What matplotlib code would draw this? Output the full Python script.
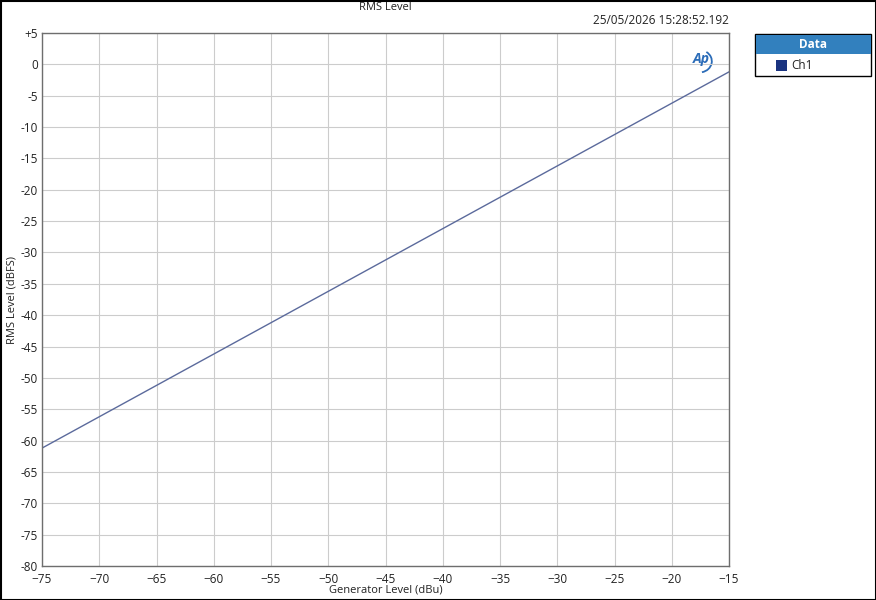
import matplotlib.pyplot as plt
from matplotlib.patches import Rectangle, Arc
import numpy as np

plt.rcParams['font.family'] = ['Open Sans', 'DejaVu Sans']

# Data
gen_level = [-75, -70, -65, -60, -55, -50, -45, -40, -35, -30, -25, -20, -15]
rms_level = [-61.2, -56.2, -51.2, -46.2, -41.2, -36.2, -31.2, -26.2, -21.2,
             -16.2, -11.2, -6.2, -1.2]
x_ticks = [-75, -70, -65, -60, -55, -50, -45, -40, -35, -30, -25, -20, -15]
y_ticks = [5, 0, -5, -10, -15, -20, -25, -30, -35, -40, -45, -50, -55, -60,
           -65, -70, -75, -80]
y_labels = ["+5" if v > 0 else str(v) for v in y_ticks]

fig = plt.figure(figsize=(8.76, 6.0), dpi=100)
ax = fig.add_axes([42 / 876, 34 / 600, 687 / 876, 533 / 600])

ax.plot(gen_level, rms_level, color="#5b6a9c", lw=1.0)

ax.set_xlim(-75, -15)
ax.set_ylim(-80, 5)
ax.set_xticks(x_ticks)
ax.set_yticks(y_ticks)
ax.set_yticklabels(y_labels)
ax.grid(True, color="#cccccc", lw=0.8)
ax.tick_params(length=0, labelsize=8.5, colors="#222222")
ax.tick_params(axis="x", pad=5)
ax.tick_params(axis="y", pad=3)
for s in ax.spines.values():
    s.set_color("#6e6e6e")
    s.set_linewidth(1.0)

ax.set_xlabel("Generator Level (dBu)", fontsize=8, labelpad=-1, color="#222222")
ax.set_ylabel("RMS Level (dBFS)", fontsize=8, labelpad=2, color="#222222")
fig.text(385 / 876, 1 - 7 / 600, "RMS Level", ha="center", va="center",
         fontsize=8, color="#222222")
fig.text(729 / 876, 1 - 21 / 600, "25/05/2026 15:28:52.192", ha="right",
         va="center", fontsize=8.5, color="#222222")

# AP logo
ax.text(0.972, 0.965, "Ap", transform=ax.transAxes, ha="right", va="top",
        fontsize=10, fontweight="bold", fontstyle="italic", color="#2b6cb8")
ax.add_patch(Arc((0.957, 0.947), 0.036, 0.042, theta1=-80, theta2=60,
                 transform=ax.transAxes, color="#2b6cb8", lw=1.3))

# legend panel
fig.patches.append(Rectangle((755 / 876, 1 - 76 / 600), 116 / 876, 42 / 600,
                             transform=fig.transFigure, facecolor="white",
                             edgecolor="black", lw=1.0))
fig.patches.append(Rectangle((755.5 / 876, 1 - 54 / 600), 115 / 876, 19.5 / 600,
                             transform=fig.transFigure, facecolor="#3280be",
                             edgecolor="none"))
fig.text(813 / 876, 1 - 44 / 600, "Data", ha="center", va="center",
         fontsize=8.5, fontweight="bold", color="white")
fig.patches.append(Rectangle((776 / 876, 1 - 71 / 600), 11 / 876, 11 / 600,
                             transform=fig.transFigure, facecolor="#1a3380",
                             edgecolor="none"))
fig.text(791 / 876, 1 - 65.5 / 600, "Ch1", ha="left", va="center",
         fontsize=8.5, color="#222222")

# outer border
fig.patches.append(Rectangle((0.5 / 876, 0.5 / 600), 875 / 876, 599 / 600,
                             transform=fig.transFigure, facecolor="none",
                             edgecolor="black", lw=1.5))

fig.savefig("out.png", dpi=100)
